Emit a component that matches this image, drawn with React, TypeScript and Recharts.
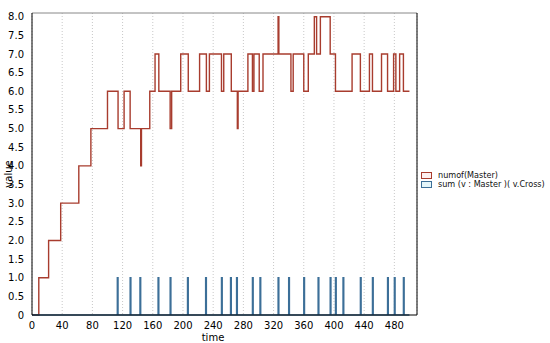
import { CartesianGrid, Line, LineChart, ReferenceLine, XAxis, YAxis } from 'recharts'

// numof(Master): step changes (time -> value)
const masterTimes = [
  0, 9, 22, 38, 62, 78, 100, 114, 122, 130, 144, 145, 156, 163, 168, 183, 185, 197, 207, 222,
  231, 235, 251, 254, 264, 272, 273, 286, 292, 294, 301, 306, 326, 327, 343, 346, 360, 366, 374,
  377, 382, 395, 402, 424, 435, 447, 451, 463, 471, 479, 482, 487, 492, 500,
]
const masterValues = [
  0, 1, 2, 3, 4, 5, 6, 5, 6, 5, 4, 5, 6, 7, 6, 5, 6, 7, 6, 7,
  6, 7, 6, 7, 6, 5, 6, 7, 6, 7, 6, 7, 8, 7, 6, 7, 6, 7, 8,
  7, 8, 7, 6, 7, 6, 7, 6, 7, 6, 7, 6, 7, 6, 6,
]

// sum (v : Master)( v.Cross): pulses to 1 at these times
const crossTimes = [
  113, 130, 143, 167, 183, 206, 230, 251, 263, 271, 292, 302, 326, 340, 360, 379, 395, 402, 412,
  435, 451, 471, 480, 492,
]
const endTime = 500

const xTicks = [0, 40, 80, 120, 160, 200, 240, 280, 320, 360, 400, 440, 480]
const yTicks = [0, 0.5, 1, 1.5, 2, 2.5, 3, 3.5, 4, 4.5, 5, 5.5, 6, 6.5, 7, 7.5, 8]

const masterData = masterTimes.map((t, i) => ({ t, v: masterValues[i] }))

const crossData: Array<{ t: number; v: number }> = [{ t: 0, v: 0 }]
crossTimes.forEach((t) => {
  crossData.push({ t, v: 1 })
  crossData.push({ t: t + 1, v: 0 })
})
crossData.push({ t: endTime, v: 0 })

const RED = '#a83c2e'
const BLUE = '#3c6f98'
const FONT = 'DejaVu Sans, Verdana, sans-serif'
const LEGEND_FONT = '"DejaVu Sans Condensed", "Liberation Sans", sans-serif'

const series = [
  { name: 'numof(Master)', stroke: RED, fill: '#fdf0f0' },
  { name: 'sum (v : Master )( v.Cross)', stroke: BLUE, fill: '#e4f6fa' },
]

function LegendBox() {
  return (
    <div
      style={{
        position: 'absolute',
        left: 421,
        top: 171,
        fontFamily: LEGEND_FONT,
        fontSize: 9,
        lineHeight: '9px',
        color: '#111',
      }}
    >
      {series.map((s) => (
        <div key={s.name} style={{ display: 'flex', alignItems: 'center', whiteSpace: 'nowrap' }}>
          <span
            style={{
              display: 'inline-block',
              flexShrink: 0,
              width: 9,
              height: 5,
              border: `1px solid ${s.stroke}`,
              background: s.fill,
              marginRight: 6,
            }}
          />
          {s.name}
        </div>
      ))}
    </div>
  )
}

export default function App() {
  return (
    <div style={{ position: 'absolute', left: 0, top: 0, width: 550, height: 343, background: '#fff' }}>
      <LineChart width={550} height={343} margin={{ top: 13, right: 133, bottom: 0, left: 0 }}>
        <CartesianGrid horizontal={false} stroke="#c8c8c8" strokeDasharray="1 2" />
        <XAxis
          dataKey="t"
          type="number"
          domain={[0, 510]}
          ticks={xTicks}
          height={28}
          axisLine={{ stroke: '#000' }}
          tickLine={false}
          tickMargin={1}
          tick={{ fill: '#000', fontSize: 10, fontFamily: FONT }}
          label={({ viewBox }: any) => (
            <text
              x={viewBox.x + 181}
              y={viewBox.y + viewBox.height - 2}
              textAnchor="middle"
              fontSize={10}
              fontFamily={FONT}
              fill="#000"
            >
              time
            </text>
          )}
        />
        <YAxis
          type="number"
          domain={[0, 8.1]}
          ticks={yTicks}
          width={32}
          axisLine={{ stroke: '#000' }}
          tickLine={false}
          tickMargin={2}
          interval={0}
          tick={{ fill: '#000', fontSize: 10, fontFamily: FONT }}
          tickFormatter={(v: number) => (v === 0 ? '0' : v.toFixed(1))}
          label={({ viewBox }: any) => (
            <text
              transform={`translate(8, ${viewBox.y + viewBox.height / 2 + 10}) rotate(-90)`}
              textAnchor="middle"
              dominantBaseline="central"
              fontSize={10}
              fontFamily={FONT}
              fill="#000"
            >
              value
            </text>
          )}
        />
        <ReferenceLine y={8.1} stroke="#888" strokeWidth={1} />
        <ReferenceLine x={510} stroke="#000" strokeWidth={1} />
        <Line
          data={masterData}
          dataKey="v"
          type="stepAfter"
          stroke={RED}
          strokeWidth={1.4}
          dot={false}
          isAnimationActive={false}
        />
        <Line
          data={crossData}
          dataKey="v"
          type="stepAfter"
          stroke={BLUE}
          strokeWidth={1.4}
          dot={false}
          isAnimationActive={false}
        />
      </LineChart>
      <LegendBox />
    </div>
  )
}
